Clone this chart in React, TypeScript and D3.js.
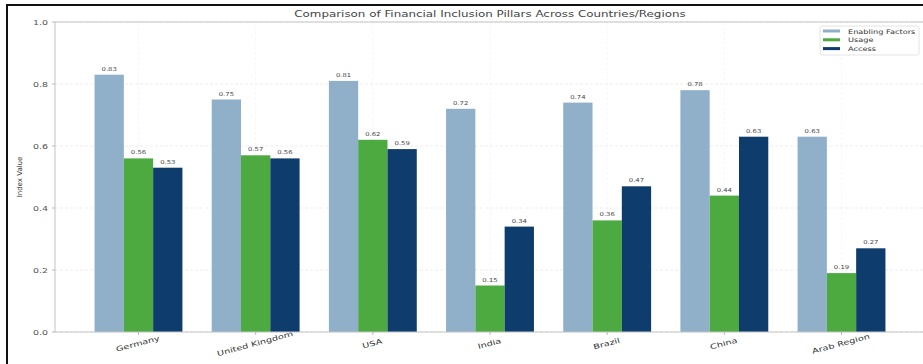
import React from "react";
import * as d3 from "d3";

const categories = ["Germany", "United Kingdom", "USA", "India", "Brazil", "China", "Arab Region"];
const enabling = [0.83, 0.75, 0.81, 0.72, 0.74, 0.78, 0.63];
const usage = [0.56, 0.57, 0.62, 0.15, 0.36, 0.44, 0.19];
const access = [0.53, 0.56, 0.59, 0.34, 0.47, 0.63, 0.27];
const seriesNames = ["Enabling Factors", "Usage", "Access"];
const yTicks = [0.0, 0.2, 0.4, 0.6, 0.8, 1.0];

const colors = ["#8fb0c8", "#4caa40", "#0e3c6c"];

function SText(props: { x: number; y: number; sx: number; size: number; fill: string; anchor?: string; rot?: number; children: any }) {
  const { x, y, sx, size, fill, anchor, rot, children } = props;
  return (
    <text
      transform={`translate(${x} ${y}) rotate(${rot || 0}) scale(${sx} 1)`}
      fontSize={size}
      fill={fill}
      textAnchor={anchor || "start"}
    >
      {children}
    </text>
  );
}

export default function App() {
  const W = 923, H = 364;
  const left = 55, right = 925, top = 22, bottom = 332;
  const x = d3.scaleLinear().domain([-0.7125, 6.7125]).range([left, right]);
  const y = d3.scaleLinear().domain([0, 1]).range([bottom, top]);
  const bw = x(0.25) - x(0);
  const series = [enabling, usage, access];
  const font = "DejaVu Sans, sans-serif";

  return (
    <svg width={W} height={H} style={{ position: "absolute", left: 0, top: 0, background: "#fff" }} fontFamily={font}>
      <rect x={0} y={0} width={W} height={H} fill="#fff" />
      {yTicks.map((t) => (
        <line key={"g" + t} x1={left} x2={right} y1={y(t)} y2={y(t)} stroke="#e8e8e8" strokeWidth={0.8} strokeDasharray="3,2" />
      ))}
      {categories.map((c, i) => (
        <line key={"vg" + i} x1={x(i)} x2={x(i)} y1={top} y2={bottom} stroke="#f2f2f2" strokeWidth={0.6} strokeDasharray="3,2" />
      ))}
      {series.map((vals, s) =>
        vals.map((v, i) => {
          const cx = x(i + (s - 1) * 0.25);
          return (
            <g key={s + "-" + i}>
              <rect x={cx - bw / 2} y={y(v)} width={bw} height={y(0) - y(v)} fill={colors[s]} />
              <SText x={cx} y={y(v) - 4} sx={1.25} size={5.5} fill="#444" anchor="middle">
                {v.toFixed(2)}
              </SText>
            </g>
          );
        })
      )}
      <rect x={left} y={top} width={right - left} height={bottom - top} fill="none" stroke="#c4c4c4" strokeWidth={1} />
      {yTicks.map((t) => (
        <g key={"yt" + t}>
          <line x1={left - 3} x2={left} y1={y(t)} y2={y(t)} stroke="#aaa" strokeWidth={0.8} />
          <SText x={left - 7} y={y(t) + 2.5} sx={1.35} size={7} fill="#555" anchor="end">
            {t.toFixed(1)}
          </SText>
        </g>
      ))}
      {categories.map((c, i) => (
        <g key={"xt" + i}>
          <line x1={x(i)} x2={x(i)} y1={bottom} y2={bottom + 3} stroke="#aaa" strokeWidth={0.8} />
          <SText x={x(i)} y={bottom + 14} sx={1.4} size={7} fill="#333" anchor="middle" rot={-15}>
            {c}
          </SText>
        </g>
      ))}
      <text x={22} y={(top + bottom) / 2} fontSize={7} fill="#333" textAnchor="middle" transform={`rotate(-90 22 ${(top + bottom) / 2})`}>
        Index Value
      </text>
      <SText x={(left + right) / 2} y={17} sx={1.25} size={9.5} fill="#444" anchor="middle">
        Comparison of Financial Inclusion Pillars Across Countries/Regions
      </SText>
      <rect x={820} y={26} width={99} height={29} rx={2} fill="#fff" stroke="#dddddd" strokeWidth={0.8} />
      {seriesNames.map((n, s) => (
        <g key={"l" + s}>
          <rect x={823} y={29.5 + s * 8.8} width={17} height={3} fill={colors[s]} />
          <SText x={848} y={33.5 + s * 8.8} sx={1.3} size={6.3} fill="#333">
            {n}
          </SText>
        </g>
      ))}
      <path d={`M7,${H + 2} L7,5 L${W + 2},5`} fill="none" stroke="#111" strokeWidth={2} />
    </svg>
  );
}
